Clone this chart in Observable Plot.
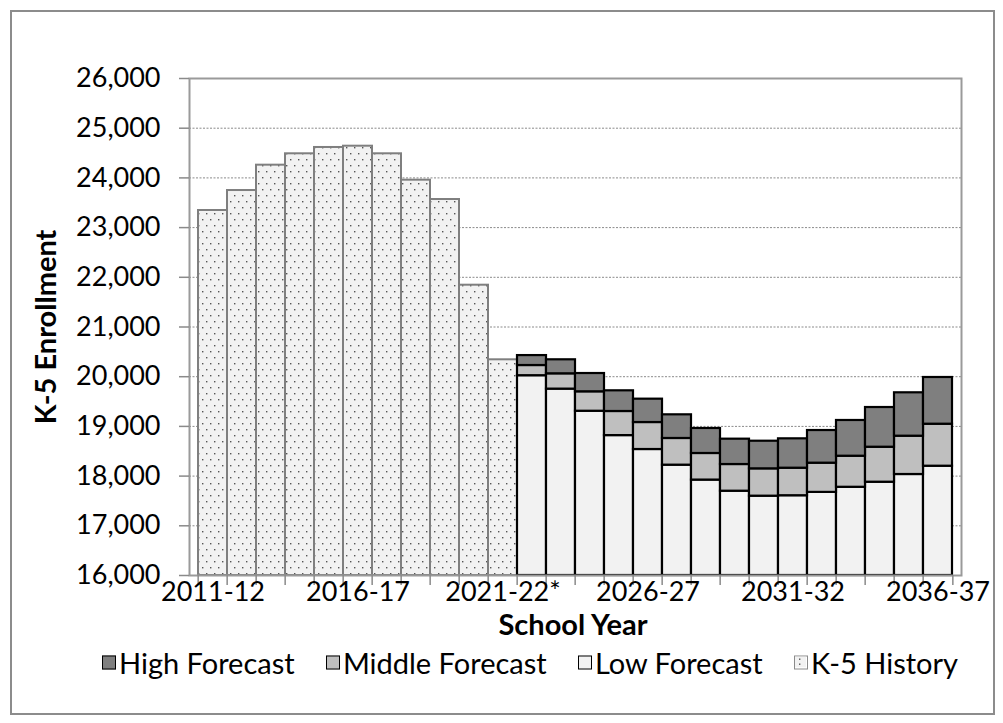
<!DOCTYPE html>
<html>
<head>
<meta charset="utf-8">
<script src="https://cdn.jsdelivr.net/npm/d3@7"></script>
<script src="https://cdn.jsdelivr.net/npm/@observablehq/plot@0.6"></script>
<style>
  html, body { margin: 0; padding: 0; background: #fff; }
  #wrap { position: relative; width: 1003px; height: 723px; font-family: Lato, "Open Sans", sans-serif; color: #000; }
  #border { position: absolute; left: 10px; top: 10px; width: 981px; height: 701px; border: 2px solid #8c8c8c; box-sizing: content-box; }
  #chart { position: absolute; left: 0; top: 0; }
  .ylab { position: absolute; left: 44px; top: 327px; transform: translate(-50%, -50%) rotate(-90deg); font-weight: bold; font-size: 29px; white-space: nowrap; }
  .xlab { position: absolute; left: 573px; top: 623px; transform: translate(-50%, -50%); font-weight: bold; font-size: 29px; white-space: nowrap; }
  #legend { position: absolute; left: 102px; width: 856px; top: 662px; transform: translateY(-50%); display: flex; justify-content: space-between; align-items: center; white-space: nowrap; }
  .leg { display: flex; align-items: center; font-size: 29px; }
  .sw { width: 14px; height: 14px; border: 1.5px solid #000; margin-right: 3px; box-sizing: border-box; }
</style>
</head>
<body>
<div id="wrap">
  <div id="border"></div>
  <div id="chart"></div>
  <div class="ylab">K-5 Enrollment</div>
  <div class="xlab">School Year</div>
  <div id="legend"></div>
</div>
<script>
// ---- data ----
const years = ["2011-12","2012-13","2013-14","2014-15","2015-16","2016-17","2017-18","2018-19","2019-20","2020-21","2021-22*",
  "2022-23","2023-24","2024-25","2025-26","2026-27","2027-28","2028-29","2029-30","2030-31","2031-32","2032-33","2033-34","2034-35","2035-36","2036-37"];
const historyYears = years.slice(0, 11);
const forecastYears = years.slice(11);
const history = [23344, 23746, 24256, 24485, 24612, 24638, 24485, 23954, 23565, 21841, 20340];
const lowForecast = [20020, 19750, 19305, 18815, 18535, 18220, 17920, 17696, 17596, 17605, 17672, 17775, 17877, 18032, 18199];
const middleForecast = [20225, 20058, 19696, 19300, 19078, 18757, 18455, 18233, 18146, 18159, 18260, 18400, 18581, 18803, 19044];
const highForecast = [20425, 20340, 20064, 19716, 19548, 19233, 18958, 18743, 18702, 18750, 18917, 19119, 19380, 19676, 19984];
const yTicks = [16000, 17000, 18000, 19000, 20000, 21000, 22000, 23000, 24000, 25000, 26000];
const xLabelYears = ["2011-12", "2016-17", "2021-22*", "2026-27", "2031-32", "2036-37"];
const seriesNames = ["High Forecast", "Middle Forecast", "Low Forecast", "K-5 History"];
const seriesColors = ["#7f7f7f", "#bfbfbf", "#f2f2f2", "url(#dots)"];

// ---- tables ----
const base = yTicks[0];
const histRows = historyYears.map((year, i) => ({year, y1: base, y2: history[i]}));
const lowRows = forecastYears.map((year, i) => ({year, y1: base, y2: lowForecast[i]}));
const midRows = forecastYears.map((year, i) => ({year, y1: lowForecast[i], y2: middleForecast[i]}));
const highRows = forecastYears.map((year, i) => ({year, y1: middleForecast[i], y2: highForecast[i]}));

const W = 1003, H = 723, ML = 189, MR = 42, MT = 78, MB = 148;
const bw = (W - ML - MR) / years.length;
const lastYear = [years[years.length - 1]];

const chart = Plot.plot({
  width: W, height: H,
  marginLeft: ML, marginRight: MR, marginTop: MT, marginBottom: MB,
  style: {fontFamily: "Lato, 'Open Sans', sans-serif", fontSize: "27px", color: "#000", background: "transparent", overflow: "visible"},
  x: {type: "band", domain: years, padding: 0, axis: null},
  y: {domain: [yTicks[0], yTicks[yTicks.length - 1]], axis: null},
  marks: [
    Plot.gridY(yTicks.slice(1, -1), {stroke: "#8a8a8a", strokeOpacity: 1, strokeDasharray: "2,1.5", strokeWidth: 1}),
    Plot.barY(histRows, {x: "year", y1: "y1", y2: "y2", fill: seriesColors[3], stroke: "#7f7f7f", strokeWidth: 2}),
    Plot.barY(lowRows, {x: "year", y1: "y1", y2: "y2", fill: seriesColors[2], stroke: "#000", strokeWidth: 2.2}),
    Plot.barY(midRows, {x: "year", y1: "y1", y2: "y2", fill: seriesColors[1], stroke: "#000", strokeWidth: 2.2}),
    Plot.barY(highRows, {x: "year", y1: "y1", y2: "y2", fill: seriesColors[0], stroke: "#000", strokeWidth: 2.2}),
    Plot.frame({stroke: "#9a9a9a", strokeWidth: 2}),
    // category boundary ticks below the x axis
    Plot.ruleX(years, {x: d => d, y1: base, y2: base, insetBottom: -10, dx: -bw / 2, stroke: "#8a8a8a", strokeWidth: 1.5}),
    Plot.ruleX(lastYear, {x: d => d, y1: base, y2: base, insetBottom: -10, dx: bw / 2, stroke: "#8a8a8a", strokeWidth: 1.5}),
    Plot.axisY(yTicks, {tickSize: 10, tickPadding: 19, tickFormat: d3.format(","), stroke: "#8a8a8a", fill: "#000", strokeWidth: 1.5, fontSize: 27, label: null}),
    Plot.axisX(xLabelYears, {tickSize: 0, tickPadding: 6, fill: "#000", fontSize: 27, label: null})
  ]
});

// dotted pattern for history bars
const defs = document.createElementNS("http://www.w3.org/2000/svg", "defs");
defs.innerHTML = `<pattern id="dots" width="8" height="12" patternUnits="userSpaceOnUse">
  <rect width="8" height="12" fill="#f2f2f2"></rect>
  <rect x="2" y="3" width="1.4" height="1.4" fill="#555"></rect>
  <rect x="6" y="9" width="1.4" height="1.4" fill="#555"></rect>
</pattern>`;
chart.insertBefore(defs, chart.firstChild);
document.getElementById("chart").appendChild(chart);

// legend
const legend = document.getElementById("legend");
seriesNames.forEach((name, i) => {
  const item = document.createElement("div");
  item.className = "leg";
  const sw = document.createElement("div");
  sw.className = "sw";
  if (i === 3) {
    sw.style.borderColor = "#8a8a8a";
    sw.innerHTML = `<svg width="11" height="11" style="display:block"><rect width="11" height="11" fill="#f2f2f2"/><rect x="4" y="2" width="1.4" height="1.4" fill="#555"/><rect x="4" y="7" width="1.4" height="1.4" fill="#555"/></svg>`;
  } else {
    sw.style.background = seriesColors[i];
  }
  const t = document.createElement("span");
  t.textContent = name;
  item.appendChild(sw);
  item.appendChild(t);
  legend.appendChild(item);
});
</script>
</body>
</html>
